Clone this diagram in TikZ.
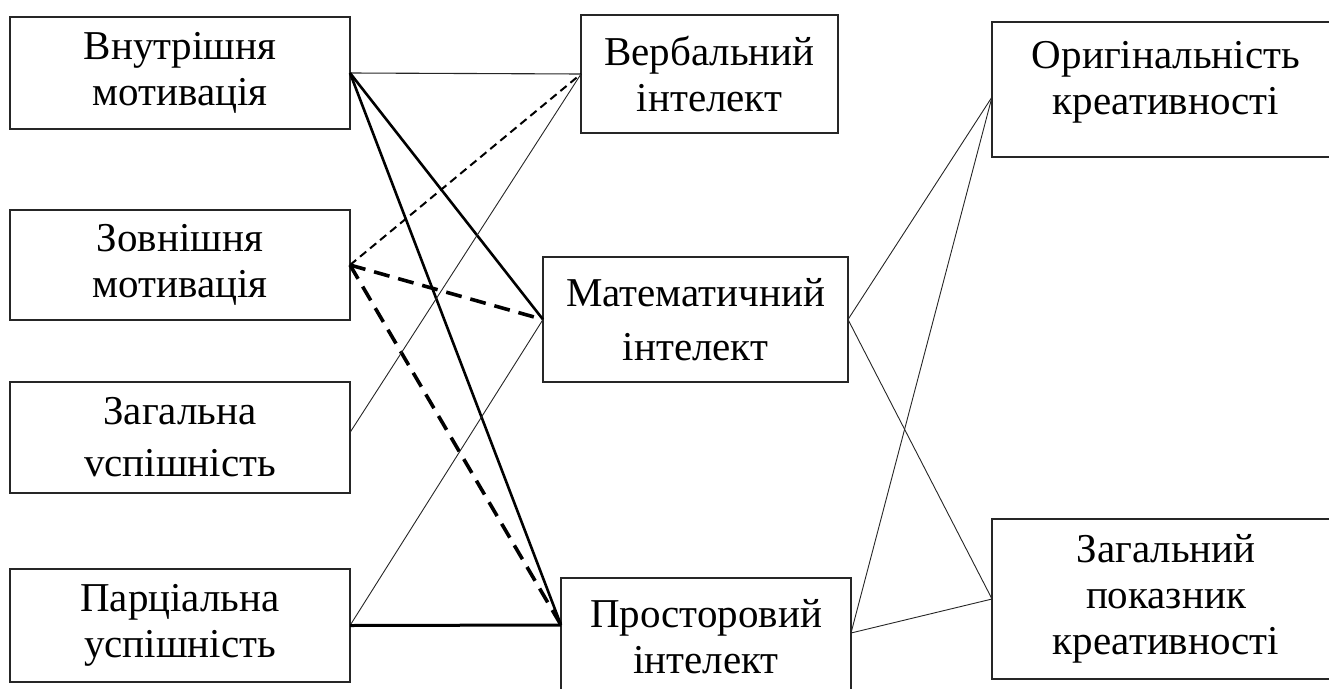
\documentclass[tikz,border=0pt]{standalone}
\usepackage{fontspec}
\setmainfont{Liberation Serif}
\begin{document}
\begin{tikzpicture}[x=1pt,y=-1pt,
  box/.style={draw=black!85, line width=1.2pt, inner sep=0pt, outer sep=0pt, align=center, font=\fontsize{41}{46}\selectfont},
  thinline/.style={line width=0.9pt, draw=black!85},
  thickline/.style={line width=2.6pt},
  meddash/.style={line width=2pt, dash pattern=on 8pt off 5pt},
  bigdash/.style={line width=3.6pt, dash pattern=on 16pt off 9pt}]
\useasboundingbox (0,0) rectangle (1329,688);
\node[box, minimum width=340pt, minimum height=112pt] (vm) at (180,73) {Внутрішня\\мотивація};
\node[box, minimum width=340pt, minimum height=110pt] (zm) at (180,265) {Зовнішня\\мотивація};
\node[box, minimum width=340pt, minimum height=111pt, font=\fontsize{41}{52}\selectfont] (zu) at (180,437.5) {Загальна\\vспішність};
\node[box, minimum width=340pt, minimum height=113pt] (pu) at (180,625.5) {Парціальна\\успішність};
\node[box, minimum width=257pt, minimum height=118pt] (vi) at (709.5,74) {Вербальний\\інтелект};
\node[box, minimum width=305pt, minimum height=125pt, font=\fontsize{41}{54}\selectfont] (mi) at (695.5,319.5) {Математичний\\інтелект};
\node[box, minimum width=290pt, minimum height=118pt] (pi) at (706,637) {Просторовий\\інтелект};
\node[box, minimum width=348pt, minimum height=135pt, text depth=24pt] (ok) at (1166,89.5) {Оригінальність\\креативності};
\node[box, minimum width=348pt, minimum height=160pt] (zk) at (1166,599) {Загальний\\показник\\креативності};
\draw[thinline, line width=1.1pt] (vm.east) -- (vi.west);
\draw[thickline] (vm.east) -- (mi.west);
\draw[thickline] (vm.east) -- ([yshift=12pt]pi.west);
\draw[meddash] (zm.east) -- (vi.west);
\draw[bigdash] (zm.east) -- (mi.west);
\draw[bigdash] (zm.east) -- ([yshift=12pt]pi.west);
\draw[thinline] ([yshift=5pt]zu.east) -- (vi.west);
\draw[thinline] (pu.east) -- (mi.west);
\draw[thickline, line width=3pt] (pu.east) -- ([yshift=12pt]pi.west);
\draw[thinline] (mi.east) -- ([yshift=-7.5pt]ok.west);
\draw[thinline] (mi.east) -- (zk.west);
\draw[thinline] ([yshift=4pt]pi.east) -- ([yshift=-7.5pt]ok.west);
\draw[thinline] ([yshift=4pt]pi.east) -- (zk.west);
\end{tikzpicture}
\end{document}
